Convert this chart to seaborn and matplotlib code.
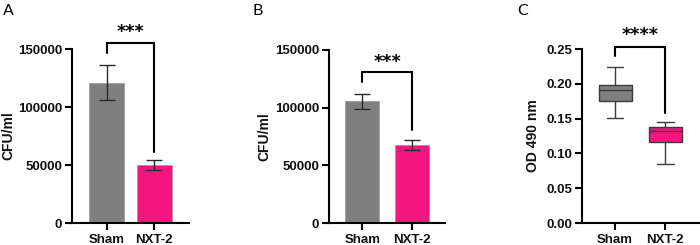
import numpy as np
import pandas as pd
import matplotlib
matplotlib.use("Agg")
import matplotlib.pyplot as plt
import seaborn as sns

# ---- data ----
groups = ["Sham", "NXT-2"]
a_means = [121000, 49800]
a_err = [15000, 4300]
b_means = [105600, 67600]
b_err = [6500, 4000]
c_sham = [0.1506, 0.1746, 0.1914, 0.1980, 0.2235]
c_nxt = [0.0849, 0.1161, 0.1324, 0.1382, 0.1444]
colors = ["#7f7f7f", "#F5157E"]
a_yticks = [0, 50000, 100000, 150000]
c_yticks = [0.00, 0.05, 0.10, 0.15, 0.20, 0.25]

sns.set_theme(style="ticks")
plt.rcParams["font.family"] = ["Liberation Sans", "DejaVu Sans"]

fig = plt.figure(figsize=(7, 2.45), dpi=100)
H = 245.0
W = 700.0

def add_ax(left, right, top_px, zero_px=223):
    return fig.add_axes([left / W, 1 - zero_px / H, (right - left) / W, (zero_px - top_px) / H])

axA = add_ax(72, 189, 49)
axB = add_ax(329, 445, 50)
axC = add_ax(582, 699, 49)

def style(ax, ylabel, lx):
    for s in ["top", "right"]:
        ax.spines[s].set_visible(False)
    for s in ["left", "bottom"]:
        ax.spines[s].set_linewidth(1.5)
        ax.spines[s].set_color("black")
    ax.tick_params(axis="both", length=5, width=1.5, color="black", pad=2,
                   labelsize=9.5, labelcolor="#111111")
    ax.tick_params(axis="x", pad=3)
    for lab in ax.get_xticklabels() + ax.get_yticklabels():
        lab.set_fontweight("bold")
    ax.set_xlabel("")
    ax.set_ylabel(ylabel, fontsize=10, fontweight="bold", color="#111111")
    ax.yaxis.set_label_coords(lx, 0.5)

def bars(ax, means, errs, width, xlim):
    df = pd.DataFrame({"group": groups, "value": means})
    sns.barplot(data=df, x="group", y="value", hue="group", palette=colors,
                legend=False, width=width, saturation=1, edgecolor="#9a9a9a",
                linewidth=0.5, ax=ax)
    ax.errorbar(x=[0, 1], y=means, yerr=errs, fmt="none", ecolor="#2a2a2a",
                elinewidth=1.0, capsize=5.5, capthick=1.0, zorder=5)
    ax.set_ylim(0, 150000)
    ax.set_yticks(a_yticks)
    ax.set_yticklabels([str(v) for v in a_yticks])
    ax.set_xlim(*xlim)

def bracket(ax, y_top, y_left, y_right, y_star, stars):
    ax.plot([0, 0, 1, 1], [y_left, y_top, y_top, y_right], color="black",
            lw=1.5, clip_on=False, solid_joinstyle="miter")
    ax.text(0.5, y_star, stars, ha="center", va="center", fontsize=12.5,
            fontweight="bold", family="DejaVu Sans", color="black", clip_on=False)

# Panel A
bars(axA, a_means, a_err, 0.73, (-0.73, 1.73))
style(axA, "CFU/ml", -0.485)
bracket(axA, 154900, 146500, 61500, 164500, "***")

# Panel B
bars(axB, b_means, b_err, 0.69, (-0.67, 1.67))
style(axB, "CFU/ml", -0.50)
bracket(axB, 130900, 122000, 80600, 140000, "***")

# Panel C
dfc = pd.DataFrame({"group": ["Sham"] * len(c_sham) + ["NXT-2"] * len(c_nxt),
                    "value": c_sham + c_nxt})
sns.boxplot(data=dfc, x="group", y="value", hue="group", palette=colors,
            legend=False, width=0.66, whis=(0, 100), saturation=1,
            linecolor="#3c3c3c", linewidth=1.0, ax=axC)
axC.set_ylim(0, 0.25)
axC.set_yticks(c_yticks)
axC.set_yticklabels([f"{v:.2f}" for v in c_yticks])
axC.set_xlim(-0.66, 1.67)
style(axC, "OD 490 nm", -0.36)
bracket(axC, 0.2529, 0.2393, 0.1587, 0.2705, "****")

# panel letters
for x, letter in [(3, "A"), (252, "B"), (517, "C")]:
    fig.text(x / W, 1 - 15 / H, letter, fontsize=11.5, family="Lato",
             ha="left", va="baseline", color="black")

fig.savefig("out.png", dpi=100)
